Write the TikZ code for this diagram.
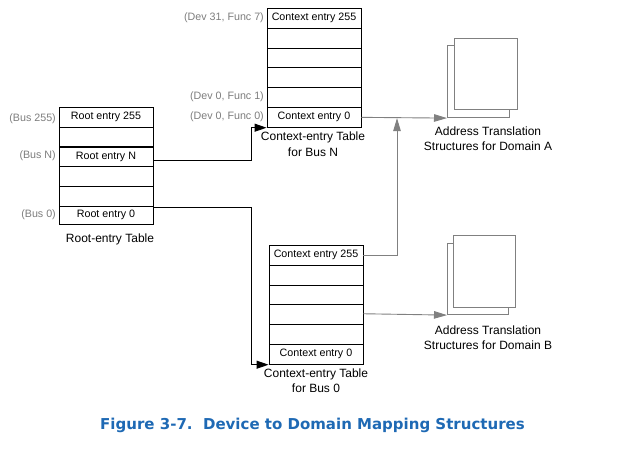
\documentclass[tikz,border=0pt]{standalone}
\usepackage{fontspec}
\setmainfont{Liberation Sans}
\newfontfamily\capfont{DejaVu Sans}
\usetikzlibrary{arrows.meta}
\definecolor{capblue}{RGB}{30,105,180}
\definecolor{lgray}{RGB}{128,128,128}
\definecolor{tgray}{RGB}{125,125,125}
\begin{document}
\begin{tikzpicture}[x=1pt,y=-1pt,
  cell/.style={draw=black, line width=0.9pt, minimum width=94pt, minimum height=19.8pt,
    inner sep=0pt, anchor=north, font=\fontsize{10.7}{12}\selectfont},
  side/.style={text=tgray, anchor=east, inner sep=0pt, font=\fontsize{10.7}{12}\selectfont},
  tlabel/.style={align=center, inner sep=0pt, font=\fontsize{12}{15.5}\selectfont},
  page/.style={draw=lgray, line width=1.1pt, fill=white, inner sep=0pt, anchor=north west},
  blk/.style={draw=black, line width=0.9pt, -{Triangle[length=12pt,width=8pt]}},
  gry/.style={draw=lgray, line width=0.9pt, -{Triangle[length=13pt,width=7.5pt]}, color=lgray},
]
\useasboundingbox (0,0) rectangle (626,450);

% Root-entry table
\node[cell] (r255) at (106,107) {Root entry 255};
\node[cell] (r2)   at (106,126.7) {};
\node[cell] (rN)   at (106,146.4) {Root entry N};
\node[cell] (r4)   at (106,166.1) {};
\node[cell] (r5)   at (106,185.8) {};
\node[cell, minimum height=18.5pt] (r0) at (106,205.5) {Root entry 0};
\node[side] (lb255) at (56,119) {(Bus 255)};
\node[side] (lbN)   at (56,156) {(Bus N)};
\node[side] (lb0)   at (56,215) {(Bus 0)};
\node[tlabel] (rtl) at (110,239) {Root-entry Table};

% Context-entry table for Bus N
\node[cell] (cN255) at (314,8) {Context entry 255};
\node[cell] (cN2)   at (314,27.8) {};
\node[cell] (cN3)   at (314,47.6) {};
\node[cell] (cN4)   at (314,67.4) {};
\node[cell] (cN1)   at (314,87.2) {};
\node[cell] (cN0)   at (314,107) {Context entry 0};
\node[side] (ld317) at (264,18) {(Dev 31, Func 7)};
\node[side] (ld01)  at (264,97) {(Dev 0, Func 1)};
\node[side] (ld00)  at (264,117) {(Dev 0, Func 0)};
\node[tlabel] (cNl) at (313,144) {Context-entry Table\\for Bus N};

% Context-entry table for Bus 0
\node[cell] (c0255) at (316,245) {Context entry 255};
\node[cell] (c02)   at (316,264.8) {};
\node[cell] (c03)   at (316,284.6) {};
\node[cell] (c04)   at (316,304.4) {};
\node[cell] (c05)   at (316,324.2) {};
\node[cell] (c00)   at (316,344) {Context entry 0};
\node[tlabel] (c0l) at (316,380.5) {Context-entry Table\\for Bus 0};

% Domain A pages
\node[page, minimum width=62pt, minimum height=72pt] (pA1) at (447,45) {};
\node[page, minimum width=63pt, minimum height=71pt] (pA2) at (454,38) {};
\node[tlabel] (dA) at (488,138.5) {Address Translation\\Structures for Domain A};

% Domain B pages
\node[page, minimum width=61pt, minimum height=71pt] (pB1) at (447,243) {};
\node[page, minimum width=62pt, minimum height=72pt] (pB2) at (453,235) {};
\node[tlabel] (dB) at (488,337.5) {Address Translation\\Structures for Domain B};

% Connectors
\draw[blk] ([yshift=-4pt]rN.east) -| ([xshift=-15pt]cN0.south west) -- (cN0.south west);
\draw[blk] ([yshift=-2pt]r0.north east) -| ([xshift=-17pt]c00.south west) -- (c00.south west);
\draw[gry] (cN0.east) -- (pA1.south west);
\draw[gry] (c0255.east) -| (pA1.south west -| 397,0);
\draw[gry] ([yshift=1pt]c04.east) -- (pB1.south west);

% Caption
\node[font=\capfont\bfseries\fontsize{15}{17}\selectfont, text=capblue, inner sep=0pt] (fig) at (312.5,425) {Figure 3-7.\ \ Device to Domain Mapping Structures};
\end{tikzpicture}
\end{document}
